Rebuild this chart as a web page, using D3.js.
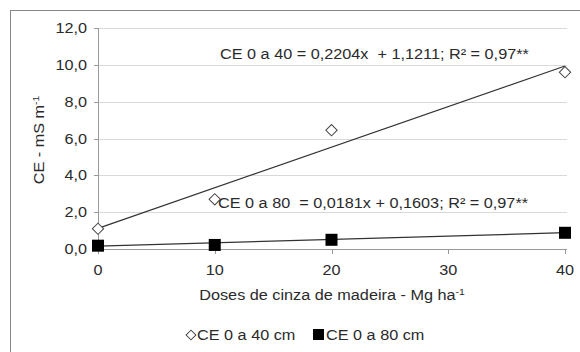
<!DOCTYPE html>
<html><head><meta charset="utf-8">
<script src="https://cdn.jsdelivr.net/npm/d3@7"></script>
<style>body{margin:0;background:#fff}svg{display:block;font-family:"Liberation Sans",Arial,sans-serif}text{white-space:pre}</style>
</head><body><svg id="c" width="580" height="352"></svg>
<script>
const doses = [0, 10, 20, 40];
const ce40 = [1.1, 2.7, 6.45, 9.6];
const ce80 = [0.18, 0.22, 0.5, 0.88];
const fit40 = {a: 0.2204, b: 1.1211};
const fit80 = {a: 0.0181, b: 0.1603};
const yTicks = [0, 2, 4, 6, 8, 10, 12];
const xTicks = [0, 10, 20, 30, 40];
const eq40 = "CE 0 a 40 = 0,2204x  + 1,1211; R² = 0,97**";
const eq80 = "CE 0 a 80  = 0,0181x + 0,1603; R² = 0,97**";
const legendLabels = ["CE 0 a 40 cm", "CE 0 a 80 cm"];

const SX = 1.16, FS = 14, TC = "#2a2a2a";
const svg = d3.select("#c");
svg.append("rect").attr("x",10.5).attr("y",10.5).attr("width",580).attr("height",360)
  .attr("fill","none").attr("stroke","#888");

const x = d3.scaleLinear().domain([0,40]).range([98,565]);
const y = d3.scaleLinear().domain([0,12]).range([249,28]);
const fmt = d => d3.format(".1f")(d).replace(".", ",");

function label(px, py, anchor, rot) {
  const g = svg.append("g").attr("transform",`translate(${px},${py})` + (rot ? ` rotate(${rot})` : "") + ` scale(${SX},1)`);
  return g.append("text").attr("text-anchor",anchor||"start").attr("font-size",FS).attr("fill",TC);
}

// gridlines
svg.append("g").selectAll("line").data(yTicks.filter(d=>d>0)).join("line")
  .attr("x1",98).attr("x2",567).attr("y1",d=>Math.round(y(d))+0.5).attr("y2",d=>Math.round(y(d))+0.5)
  .attr("stroke","#d9d9d9");

// y axis
svg.append("line").attr("x1",98.5).attr("x2",98.5).attr("y1",Math.round(y(12))).attr("y2",Math.round(y(0))).attr("stroke","#999");
svg.append("g").selectAll("line").data(yTicks).join("line")
  .attr("x1",94).attr("x2",98.5).attr("y1",d=>Math.round(y(d))+0.5).attr("y2",d=>Math.round(y(d))+0.5).attr("stroke","#999");
yTicks.forEach(d => label(87, Math.round(y(d))+5, "end").text(fmt(d)));

// x axis
svg.append("line").attr("x1",98).attr("x2",567).attr("y1",Math.round(y(0))+0.5).attr("y2",Math.round(y(0))+0.5).attr("stroke","#999");
svg.append("g").selectAll("line").data(xTicks).join("line")
  .attr("x1",d=>Math.round(x(d))+0.5).attr("x2",d=>Math.round(x(d))+0.5)
  .attr("y1",Math.round(y(0))).attr("y2",Math.round(y(0))+5).attr("stroke","#999");
xTicks.forEach(d => label(x(d), 275, "middle").text(d3.format("d")(d)));

// trend lines
[fit40, fit80].forEach(f=>{
  svg.append("line").attr("x1",x(0)).attr("y1",y(f.b)).attr("x2",x(40)).attr("y2",y(f.a*40+f.b))
    .attr("stroke","#333").attr("stroke-width",1.2);
});

// markers
svg.append("g").selectAll("path").data(doses).join("path")
  .attr("transform",(d,i)=>`translate(${x(d)},${y(ce40[i])}) rotate(45)`)
  .attr("d", d3.symbol().type(d3.symbolSquare).size(64)())
  .attr("fill","#fff").attr("stroke","#444").attr("stroke-width",1);
svg.append("g").selectAll("rect").data(doses).join("rect")
  .attr("x",(d)=>x(d)-6).attr("y",(d,i)=>y(ce80[i])-6).attr("width",12).attr("height",12)
  .attr("fill","#000");

// equations
label(220, 59).text(eq40);
label(218, 208).text(eq80);

// axis titles
const xt = label(332, 300, "middle");
xt.append("tspan").text("Doses de cinza de madeira - Mg ha");
xt.append("tspan").attr("dy",-5).attr("font-size",9).text("-1");
const yt = label(44, 140, "middle", -90);
yt.append("tspan").text("CE - mS m");
yt.append("tspan").attr("dy",-5).attr("font-size",9).text("-1");

// legend
svg.append("path").attr("transform","translate(191,335) rotate(45)")
  .attr("d", d3.symbol().type(d3.symbolSquare).size(48)()).attr("fill","#fff").attr("stroke","#444");
label(197, 340).text(legendLabels[0]);
svg.append("rect").attr("x",313).attr("y",329).attr("width",11).attr("height",11).attr("fill","#000");
label(326, 340).text(legendLabels[1]);
</script></body></html>
